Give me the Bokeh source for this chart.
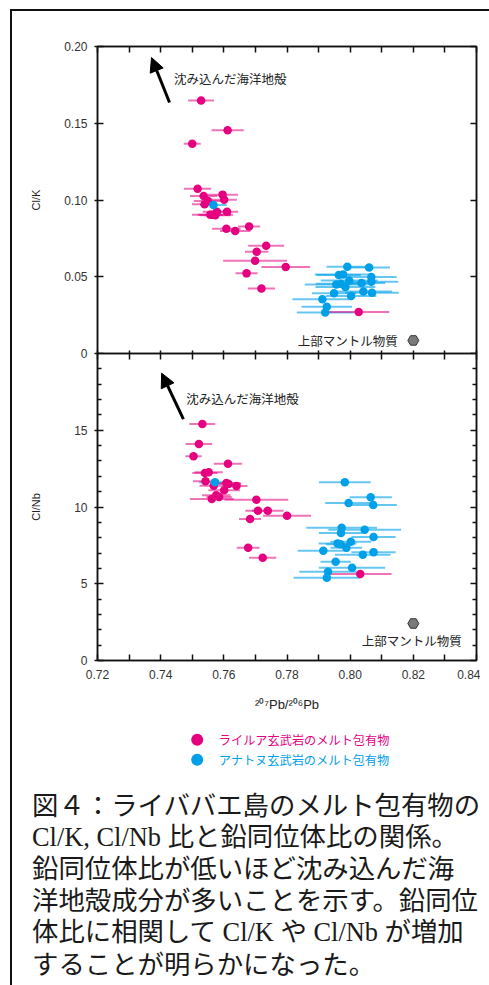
from bokeh.plotting import figure
from bokeh.models import (Range1d, LinearAxis, FixedTicker, NumeralTickFormatter,
                          Arrow, NormalHead, Spacer)
from bokeh.layouts import column, row
from bokeh.core.properties import value
from bokeh.embed import file_html
from bokeh.resources import INLINE

# ---------------- data ----------------
# Rairua basalt melt inclusions (pink)
rl_k_pb  = [0.7528, 0.7612, 0.7500, 0.7517, 0.7536, 0.7596, 0.7601, 0.7550, 0.7539, 0.7578,
            0.7610, 0.7564, 0.7573, 0.7557, 0.7608, 0.7636, 0.7680, 0.7734, 0.7704, 0.7699,
            0.7796, 0.7672, 0.7719, 0.8027]
rl_k     = [0.1648, 0.1455, 0.1367, 0.1074, 0.1026, 0.1035, 0.1002, 0.0993, 0.0972, 0.0924,
            0.0924, 0.0904, 0.0900, 0.0904, 0.0813, 0.0798, 0.0828, 0.0702, 0.0663, 0.0604,
            0.0563, 0.0522, 0.0424, 0.0271]
rl_k_err = [0.0041, 0.0051, 0.0027, 0.0043, 0.0043, 0.0049, 0.0040, 0.0045, 0.0040, 0.0045,
            0.0035, 0.0065, 0.0050, 0.0040, 0.0045, 0.0048, 0.0035, 0.0057, 0.0037, 0.0101,
            0.0077, 0.0035, 0.0043, 0.0097]

rl_nb_pb  = [0.7532, 0.7521, 0.7504, 0.7613, 0.7552, 0.7540, 0.7542, 0.7608, 0.7615, 0.7640,
             0.7568, 0.7601, 0.7576, 0.7585, 0.7562, 0.7703, 0.7708, 0.7739, 0.7800, 0.7683,
             0.7677, 0.7723, 0.8032]
rl_nb     = [15.41, 14.11, 13.31, 12.81, 12.26, 12.22, 11.68, 11.57, 11.50, 11.37,
             11.39, 11.09, 10.76, 10.65, 10.52, 10.48, 9.76, 9.76, 9.43, 9.22,
             7.35, 6.69, 5.63]
rl_nb_err = [0.0041, 0.0042, 0.0026, 0.0045, 0.0045, 0.0040, 0.0040, 0.0045, 0.0040, 0.0035,
             0.0045, 0.0050, 0.0045, 0.0040, 0.0069, 0.0101, 0.0040, 0.0050, 0.0076, 0.0035,
             0.0036, 0.0043, 0.0099]

# Anatonu basalt melt inclusions (blue)
an_k_pb  = [0.7567, 0.7991, 0.8060, 0.7964, 0.7978, 0.8067, 0.8067, 0.8036, 0.7997, 0.7956,
            0.7971, 0.7985, 0.7949, 0.8003, 0.8042, 0.8069, 0.7912, 0.7926, 0.7921]
an_k     = [0.0967, 0.0565, 0.0561, 0.0511, 0.0515, 0.0498, 0.0467, 0.0459, 0.0476, 0.0450,
            0.0454, 0.0434, 0.0393, 0.0374, 0.0404, 0.0395, 0.0354, 0.0304, 0.0267]
an_k_err = [0.0042, 0.0066, 0.0066, 0.0070, 0.0090, 0.0080, 0.0085, 0.0075, 0.0090, 0.0100,
            0.0080, 0.0095, 0.0070, 0.0080, 0.0090, 0.0085, 0.0095, 0.0080, 0.0090]

an_nb_pb  = [0.7572, 0.7983, 0.8065, 0.7995, 0.8073, 0.7973, 0.8046, 0.7971, 0.8074, 0.8002,
             0.7960, 0.7969, 0.7988, 0.7915, 0.8074, 0.8040, 0.7954, 0.8006, 0.7930, 0.7926]
an_nb     = [11.61, 11.61, 10.63, 10.26, 10.13, 8.65, 8.52, 8.30, 8.04, 7.74,
             7.63, 7.57, 7.35, 7.15, 7.06, 6.89, 6.43, 6.04, 5.78, 5.39]
an_nb_err = [0.0050, 0.0082, 0.0067, 0.0074, 0.0075, 0.0112, 0.0115, 0.0070, 0.0070, 0.0065,
             0.0060, 0.0045, 0.0050, 0.0081, 0.0070, 0.0088, 0.0048, 0.0105, 0.0091, 0.0105]

# upper mantle reference
mantle_pb = [0.82]
mantle_k = [0.0085]
mantle_nb = [2.41]

# ticks
pb_ticks = [0.72, 0.74, 0.76, 0.78, 0.80, 0.82, 0.84]
pb_minor = [0.73, 0.75, 0.77, 0.79, 0.81, 0.83]
clk_ticks = [0.0, 0.05, 0.10, 0.15, 0.20]
clnb_ticks = [0, 5, 10, 15]
clnb_minor = [1, 2, 3, 4, 6, 7, 8, 9, 11, 12, 13, 14, 16, 17, 18, 19]

arrow_label = "沈み込んだ海洋地殻"
mantle_label = "上部マントル物質"
legend_labels = ["ライルア玄武岩のメルト包有物", "アナトヌ玄武岩のメルト包有物"]
caption_lines = [
    "図４：ライババエ島のメルト包有物の",
    "Cl/K, Cl/Nb 比と鉛同位体比の関係。",
    "鉛同位体比が低いほど沈み込んだ海",
    "洋地殻成分が多いことを示す。鉛同位",
    "体比に相関して Cl/K や Cl/Nb が増加",
    "することが明らかになった。",
]

PINK = "#e4007f"
BLUE = "#00a0e9"
DARK = "#111111"
SANS = "Liberation Sans"
JP = "Noto Sans CJK JP"

W_CONTENT = 468
MB_LEFT, MB_RIGHT = 85, 4


def style_axis(ax, labels=True, tick_in=6, tick_out=0, minor_in=0, minor_out=0):
    ax.axis_line_color = DARK
    ax.axis_line_width = 1.5
    ax.major_tick_line_color = DARK
    ax.major_tick_line_width = 1.5
    ax.minor_tick_line_color = DARK
    ax.minor_tick_line_width = 1.5
    ax.major_tick_in = tick_in
    ax.major_tick_out = tick_out
    ax.minor_tick_in = minor_in
    ax.minor_tick_out = minor_out
    if labels:
        ax.major_label_text_font = SANS
        ax.major_label_text_font_size = "12px"
        ax.major_label_text_color = "#333333"
    else:
        ax.major_label_text_font_size = "0px"
        ax.major_label_text_color = None
        ax.major_label_standoff = 0
    ax.axis_label_text_font = SANS
    ax.axis_label_text_font_style = "normal"
    ax.axis_label_text_color = "#222222"


def panel(height, ymax, mb_top, mb_bottom):
    p = figure(width=W_CONTENT, height=height, x_range=Range1d(0.72, 0.84),
               y_range=Range1d(0, ymax), output_backend="svg", toolbar_location=None,
               x_axis_location=None, y_axis_location=None,
               min_border_left=MB_LEFT, min_border_right=MB_RIGHT,
               min_border_top=mb_top, min_border_bottom=mb_bottom)
    p.grid.grid_line_color = None
    p.outline_line_color = DARK
    p.outline_line_width = 1.5
    p.background_fill_color = "white"
    p.border_fill_color = "white"
    return p


def draw_series(p, xb, yb, eb, xp, yp, ep):
    # error bars
    p.segment(x0=[a - e for a, e in zip(xb, eb)], x1=[a + e for a, e in zip(xb, eb)],
              y0=yb, y1=yb, line_color=BLUE, line_alpha=0.6, line_width=2)
    p.segment(x0=[a - e for a, e in zip(xp, ep)], x1=[a + e for a, e in zip(xp, ep)],
              y0=yp, y1=yp, line_color=PINK, line_alpha=0.55, line_width=2)
    p.scatter(xp, yp, size=8.5, fill_color=PINK, line_color=None)
    p.scatter(xb, yb, size=8.5, fill_color=BLUE, line_color=None)


# ---------------- upper panel: Cl/K ----------------
p1 = panel(350, 0.20, 35, 8)
ax = LinearAxis(ticker=FixedTicker(ticks=clk_ticks),
                formatter=NumeralTickFormatter(format="0.00"),
                major_label_overrides={0: "0"}, axis_label="Cl/K")
style_axis(ax, labels=True, tick_in=6, tick_out=3)
ax.major_label_standoff = 7
ax.axis_label_standoff = 19
ax.axis_label_text_font_size = "11px"
p1.add_layout(ax, "left")
ax = LinearAxis(ticker=FixedTicker(ticks=clk_ticks))
style_axis(ax, labels=False, tick_in=6)
p1.add_layout(ax, "right")
ax = LinearAxis(ticker=FixedTicker(ticks=pb_ticks, minor_ticks=pb_minor))
style_axis(ax, labels=False, tick_in=6, minor_in=6)
p1.add_layout(ax, "above")
ax = LinearAxis(ticker=FixedTicker(ticks=pb_ticks, minor_ticks=pb_minor))
style_axis(ax, labels=False, tick_in=3, minor_in=3)
p1.add_layout(ax, "below")

draw_series(p1, an_k_pb, an_k, an_k_err, rl_k_pb, rl_k, rl_k_err)
p1.scatter(mantle_pb, mantle_k, marker="hex", size=11, fill_color="#7a7a7a", line_color="#333333")
p1.text(x=[0.8151], y=mantle_k, text=[mantle_label], text_font=value(JP),
        text_font_size=value("12.5px"), text_align="right", text_baseline="middle",
        text_color="#222222")
p1.add_layout(Arrow(end=NormalHead(size=14, fill_color="black", line_color="black"),
                    x_start=0.7428, y_start=0.1635, x_end=0.7371, y_end=0.1928,
                    line_width=3, line_color="black"))
p1.text(x=[0.7442], y=[0.1794], text=[arrow_label], text_font=value(JP),
        text_font_size=value("12.5px"), text_align="left", text_baseline="middle",
        text_color="#222222")

# ---------------- lower panel: Cl/Nb ----------------
p2 = panel(363, 20, 0, 56)
p2.border_fill_color = None          # lets the shared "0" label of the upper panel show
p2.margin = (-8, 0, 0, 0)            # frames share one boundary line
ax = LinearAxis(ticker=FixedTicker(ticks=clnb_ticks, minor_ticks=clnb_minor),
                axis_label="Cl/Nb")
style_axis(ax, labels=True, tick_in=6, tick_out=3, minor_in=4)
ax.major_label_standoff = 7
ax.axis_label_standoff = 29
ax.axis_label_text_font_size = "11px"
p2.add_layout(ax, "left")
ax = LinearAxis(ticker=FixedTicker(ticks=clnb_ticks, minor_ticks=clnb_minor))
style_axis(ax, labels=False, tick_in=6, minor_in=4)
p2.add_layout(ax, "right")
ax = LinearAxis(ticker=FixedTicker(ticks=pb_ticks, minor_ticks=pb_minor))
style_axis(ax, labels=False, tick_in=6, minor_in=6)
p2.add_layout(ax, "above")
ax = LinearAxis(ticker=FixedTicker(ticks=pb_ticks, minor_ticks=pb_minor),
                formatter=NumeralTickFormatter(format="0.00"),
                axis_label="²⁰⁷Pb/²⁰⁶Pb")
style_axis(ax, labels=True, tick_in=6, minor_in=6)
ax.major_label_standoff = 9
ax.axis_label_standoff = 15
ax.axis_label_text_font_size = "13px"
p2.add_layout(ax, "below")

draw_series(p2, an_nb_pb, an_nb, an_nb_err, rl_nb_pb, rl_nb, rl_nb_err)
p2.scatter(mantle_pb, mantle_nb, marker="hex", size=11, fill_color="#7a7a7a", line_color="#333333")
p2.text(x=[0.8195], y=[1.30], text=[mantle_label], text_font=value(JP),
        text_font_size=value("12.5px"), text_align="center", text_baseline="middle",
        text_color="#222222")
p2.add_layout(Arrow(end=NormalHead(size=14, fill_color="black", line_color="black"),
                    x_start=0.7472, y_start=15.72, x_end=0.7403, y_end=18.72,
                    line_width=3, line_color="black"))
p2.text(x=[0.7481], y=[17.09], text=[arrow_label], text_font=value(JP),
        text_font_size=value("12.5px"), text_align="left", text_baseline="middle",
        text_color="#222222")

# ---------------- legend + caption (pixel-unit canvas, own frame) ----------------
H3 = 269
W3 = 477
p3 = figure(width=W3, height=H3, x_range=Range1d(0, W3), y_range=Range1d(H3, 0),
            output_backend="svg", toolbar_location=None,
            x_axis_location=None, y_axis_location=None, min_border=0,
            min_border_left=0, min_border_right=0, min_border_top=0, min_border_bottom=0)
p3.grid.grid_line_color = None
p3.outline_line_color = None
p3.scatter([184.7, 184.7], [23.3, 43.3], size=12, fill_color=[PINK, BLUE], line_color=None)
p3.text(x=[206.3, 206.3], y=[23.3, 43.3], text=legend_labels, text_font=value(JP),
        text_font_size=value("12.2px"), text_align="left", text_baseline="middle",
        text_color=[PINK, BLUE])
p3.text(x=[19.5] * len(caption_lines), y=[89, 120.7, 152.3, 184, 215.7, 248],
        text=caption_lines, text_font=value("Liberation Serif, Noto Sans CJK JP"),
        text_font_size=value("26.4px"), text_align="left", text_baseline="middle",
        text_color="#1a1a1a")


def dark(w, h):
    return Spacer(width=w, height=h, styles={"background-color": DARK})


root = column(
    Spacer(width=489, height=9),
    row(Spacer(width=10, height=2), dark(479, 2)),
    row(Spacer(width=10, height=705), dark(2, 705), column(p1, p2)),
    row(Spacer(width=10, height=H3), dark(2, H3), p3),
)

open("out.html", "w").write(file_html(root, INLINE, title="Cl/K, Cl/Nb vs Pb"))
